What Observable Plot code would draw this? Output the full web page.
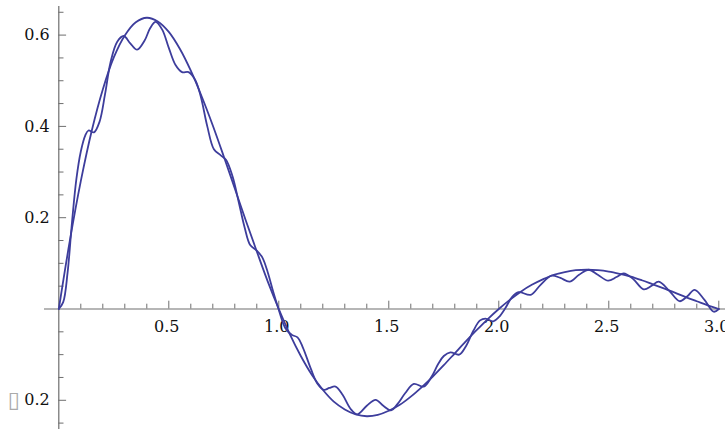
<!DOCTYPE html>
<html>
<head>
<meta charset="utf-8">
<script src="https://cdn.jsdelivr.net/npm/d3@7"></script>
<script src="https://cdn.jsdelivr.net/npm/@observablehq/plot@0.6"></script>
<style>
  html, body { margin: 0; padding: 0; background: #fff; }
  #chart svg { display: block; }
</style>
</head>
<body>
<div id="chart"></div>
<script>
// ---- data ----
const smoothX = [0,0.05,0.1,0.15,0.2,0.25,0.3,0.35,0.4,0.45,0.5,0.55,0.6,0.65,0.7,0.75,0.8,0.85,0.9,0.95,
  1.0,1.05,1.1,1.15,1.2,1.25,1.3,1.35,1.4,1.45,1.5,1.55,1.6,1.65,1.7,1.75,1.8,1.85,1.9,1.95,
  2.0,2.05,2.1,2.15,2.2,2.25,2.3,2.35,2.4,2.45,2.5,2.55,2.6,2.65,2.7,2.75,2.8,2.85,2.9,2.95,3.0];
const smoothY = [0,0.149,0.280,0.391,0.481,0.551,0.599,0.628,0.638,0.630,0.607,0.570,0.522,0.465,0.402,0.334,0.264,0.194,0.126,0.060,
  0,-0.055,-0.103,-0.144,-0.177,-0.203,-0.220,-0.231,-0.235,-0.232,-0.223,-0.210,-0.192,-0.171,-0.148,-0.123,-0.097,-0.071,-0.046,-0.022,
  0,0.020,0.038,0.053,0.065,0.075,0.081,0.085,0.086,0.085,0.082,0.077,0.071,0.063,0.054,0.045,0.036,0.026,0.017,0.008,0];

const wigglyX = [0,0.02,0.04,0.06,0.08,0.10,0.12,0.135,0.16,0.185,0.21,0.235,0.265,0.295,0.325,0.356,0.39,0.415,0.44,0.47,
  0.5,0.53,0.56,0.59,0.62,0.645,0.675,0.705,0.735,0.76,0.79,0.818,0.845,0.87,0.9,0.925,0.95,0.975,
  1.0,1.03,1.06,1.085,1.11,1.145,1.175,1.205,1.23,1.258,1.29,1.325,1.356,1.4,1.44,1.475,1.51,1.54,1.575,1.614,1.659,
  1.695,1.725,1.75,1.78,1.82,1.85,1.885,1.915,1.94,1.975,
  2.0,2.03,2.06,2.09,2.145,2.19,2.24,2.28,2.322,2.365,2.409,2.45,2.497,2.535,2.568,2.61,2.659,2.695,2.727,2.775,2.822,2.857,2.89,2.935,2.977,3.0];
const wigglyY = [0,0.015,0.08,0.19,0.285,0.345,0.38,0.391,0.387,0.41,0.47,0.54,0.585,0.598,0.582,0.568,0.588,0.615,0.629,0.612,
  0.572,0.535,0.519,0.519,0.502,0.466,0.40,0.35,0.337,0.327,0.29,0.234,0.178,0.140,0.128,0.113,0.08,0.037,
  -0.002,-0.042,-0.057,-0.062,-0.085,-0.13,-0.163,-0.177,-0.173,-0.170,-0.188,-0.218,-0.231,-0.212,-0.199,-0.212,-0.222,-0.208,-0.184,-0.164,-0.170,
  -0.148,-0.12,-0.103,-0.095,-0.100,-0.082,-0.047,-0.025,-0.021,-0.027,
  -0.018,0.002,0.026,0.037,0.031,0.053,0.073,0.068,0.060,0.075,0.086,0.075,0.062,0.070,0.078,0.066,0.043,0.051,0.060,0.040,0.017,0.028,0.042,0.020,-0.006,0];

const xMajorTicks = [0.5, 1.0, 1.5, 2.0, 2.5, 3.0];
const xTickLabels = ["0.5", "1.0", "1.5", "2.0", "2.5", "3.0"];
const xMinorTicks = [0.1,0.2,0.3,0.4,0.6,0.7,0.8,0.9,1.1,1.2,1.3,1.4,1.6,1.7,1.8,1.9,2.1,2.2,2.3,2.4,2.6,2.7,2.8,2.9];
const yMajorTicks = [-0.2, 0.2, 0.4, 0.6];
const yTickLabels = ["0.2", "0.2", "0.4", "0.6"];
const yTickSigns  = ["\u25AF", "", "", ""];
const yMinorTicks = [-0.25,-0.15,-0.1,-0.05,0.05,0.1,0.15,0.25,0.3,0.35,0.45,0.5,0.55,0.65];

// ---- layout ----
const W = 725, H = 429;
const xDom = [-0.265, 3.0305];
const yDom = [-0.264, 0.6758];
const kx = W / (xDom[1] - xDom[0]);
const ky = H / (yDom[1] - yDom[0]);

const smooth = smoothX.map((x, i) => ({x, y: smoothY[i]}));
const wiggly = wigglyX.map((x, i) => ({x, y: wigglyY[i]}));
const xMaj = xMajorTicks.map((v, i) => ({v, label: xTickLabels[i]}));
const yMaj = yMajorTicks.map((v, i) => ({v, label: yTickLabels[i], sign: yTickSigns[i]}));

const axisColor = "#6e6e6e";
const curveColor = "#3d3d9c";
const font = "'DejaVu Serif', 'Liberation Serif', serif";

const chart = Plot.plot({
  width: W, height: H,
  marginTop: 0, marginRight: 0, marginBottom: 0, marginLeft: 0,
  x: {domain: xDom, axis: null},
  y: {domain: yDom, axis: null},
  style: {background: "#fff"},
  marks: [
    // axes lines
    Plot.ruleY([0], {x1: -0.065, x2: xDom[1], stroke: axisColor, strokeWidth: 1.2}),
    Plot.ruleX([0], {y1: yDom[0], y2: 0.6627, stroke: axisColor, strokeWidth: 1.2}),
    // x ticks (pointing up)
    Plot.ruleX(xMinorTicks, {x: d => d, y1: 0, y2: 4.8 / ky, stroke: axisColor, strokeWidth: 1}),
    Plot.ruleX(xMaj, {x: "v", y1: 0, y2: 7.8 / ky, stroke: axisColor, strokeWidth: 1}),
    // y ticks (pointing right)
    Plot.ruleY(yMinorTicks, {y: d => d, x1: 0, x2: 5.2 / kx, stroke: axisColor, strokeWidth: 1}),
    Plot.ruleY(yMaj, {y: "v", x1: 0, x2: 7.8 / kx, stroke: axisColor, strokeWidth: 1}),
    // labels
    Plot.text(xMaj, {x: "v", y: 0, text: "label", dx: -2, dy: 17.5, fontSize: 16, fill: "#111", textAnchor: "middle", fontFamily: font}),
    Plot.text(yMaj, {x: 0, y: "v", text: "label", dx: -9, fontSize: 16, fill: "#111", textAnchor: "end", fontFamily: font}),
    Plot.text(yMaj, {x: 0, y: "v", text: "sign", dx: -39, fontSize: 22, fill: "#aaa", textAnchor: "end", fontFamily: "DejaVu Sans"}),
    // curves
    Plot.line(smooth, {x: "x", y: "y", curve: "catmull-rom", stroke: curveColor, strokeWidth: 1.8}),
    Plot.line(wiggly, {x: "x", y: "y", curve: "catmull-rom", stroke: curveColor, strokeWidth: 1.8})
  ]
});
document.getElementById("chart").appendChild(chart);
</script>
</body>
</html>
